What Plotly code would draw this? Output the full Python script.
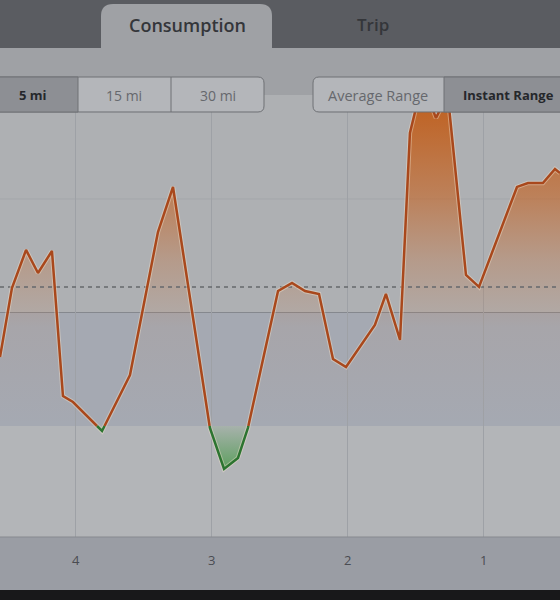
import numpy as np
import plotly.graph_objects as go

# ---------------- data ----------------
miles_left = [4.560, 4.472, 4.368, 4.280, 4.177, 4.096, 4.022, 3.808, 3.602, 3.396,
              3.285, 3.013, 2.909, 2.806, 2.733, 2.511, 2.408, 2.312, 2.209, 2.106,
              2.010, 1.907, 1.797, 1.716, 1.612, 1.539, 1.480, 1.421, 1.347, 1.260,
              1.126, 1.030, 0.750, 0.669, 0.559, 0.470, 0.433]
consumption = [60.8, 121.6, 155.1, 134.8, 154.2, 26.4, 21.1, -4.4, 44.9, 170.9,
               210.6, -1.8, -37.9, -28.2, -1.8, 118.9, 126.0, 118.9, 116.3, 59.0,
               52.0, 69.6, 89.0, 116.3, 75.8, 258.1, 287.2, 294.3, 271.4, 292.0,
               133.0, 122.5, 210.6, 214.1, 214.1, 226.4, 222.9]
average_value = 122.5
tick_vals = [4, 3, 2, 1]
tick_text = ["4", "3", "2", "1"]
tab_labels = ["Consumption", "Trip"]
dist_buttons = ["5 mi", "15 mi", "30 mi"]
range_buttons = ["Average Range", "Instant Range"]

X_RANGE = [4.56, 0.433]
Y_RANGE = [-97.8, 291.6]

W, H = 560, 600
PLOT_TOP, PLOT_BOTTOM = 95, 537
PLOT_H = PLOT_BOTTOM - PLOT_TOP


def PX(px):
    return px / W


def PY(py):
    return (PLOT_BOTTOM - py) / PLOT_H


def split_at_zero(xs, ys):
    ox, oy = [xs[0]], [ys[0]]
    for i in range(1, len(xs)):
        x0, y0, x1, y1 = xs[i - 1], ys[i - 1], xs[i], ys[i]
        if (y0 > 0 > y1) or (y0 < 0 < y1):
            t = y0 / (y0 - y1)
            ox.append(x0 + t * (x1 - x0))
            oy.append(0.0)
        ox.append(x1)
        oy.append(y1)
    return np.array(ox), np.array(oy)


def rrect(x0, y0, x1, y1, r, tl=True, tr=True, br=True, bl=True):
    def p(x, y):
        return f"{PX(x):.5f},{PY(y):.5f}"
    s = f"M {p(x0 + (r if tl else 0), y0)} "
    s += f"L {p(x1 - (r if tr else 0), y0)} "
    if tr:
        s += f"Q {p(x1, y0)} {p(x1, y0 + r)} "
    s += f"L {p(x1, y1 - (r if br else 0))} "
    if br:
        s += f"Q {p(x1, y1)} {p(x1 - r, y1)} "
    s += f"L {p(x0 + (r if bl else 0), y1)} "
    if bl:
        s += f"Q {p(x0, y1)} {p(x0, y1 - r)} "
    s += f"L {p(x0, y0 + (r if tl else 0))} "
    if tl:
        s += f"Q {p(x0, y0)} {p(x0 + r, y0)} "
    s += "Z"
    return s


ox, oy = split_at_zero(miles_left, consumption)
pos = np.where(oy >= 0, oy, np.nan)
neg = np.where(oy <= 0, oy, np.nan)

fig = go.Figure()

# orange gradient fill
fig.add_trace(go.Scatter(
    x=ox, y=np.maximum(oy, 0), mode="lines", line=dict(width=0),
    fill="tozeroy",
    fillgradient=dict(type="vertical", start=0, stop=Y_RANGE[1],
                      colorscale=[[0, "rgba(200,105,40,0)"],
                                  [0.3, "rgba(200,105,40,0.06)"],
                                  [0.5, "rgba(200,100,35,0.28)"],
                                  [0.7, "rgba(198,96,28,0.6)"],
                                  [1, "rgba(192,90,20,0.95)"]]),
    hoverinfo="skip", showlegend=False))
# green gradient fill
fig.add_trace(go.Scatter(
    x=ox, y=np.minimum(oy, 0), mode="lines", line=dict(width=0),
    fill="tozeroy",
    fillgradient=dict(type="vertical", start=-40, stop=0,
                      colorscale=[[0, "rgba(60,150,60,0.75)"],
                                  [1, "rgba(60,150,60,0.1)"]]),
    hoverinfo="skip", showlegend=False))

# average dashed line
fig.add_trace(go.Scatter(
    x=X_RANGE, y=[average_value, average_value], mode="lines",
    line=dict(color="#66686c", width=1.5, dash="4px,4px"),
    hoverinfo="skip", showlegend=False))

# halo + lines
fig.add_trace(go.Scatter(x=ox, y=oy, mode="lines",
                         line=dict(color="rgba(240,225,205,0.45)", width=4.5),
                         hoverinfo="skip", showlegend=False))
fig.add_trace(go.Scatter(x=ox, y=pos, mode="lines",
                         line=dict(color="#a9481c", width=2.5),
                         hoverinfo="skip", showlegend=False))
fig.add_trace(go.Scatter(x=ox, y=neg, mode="lines",
                         line=dict(color="#2c7430", width=2.5),
                         hoverinfo="skip", showlegend=False))

shapes = []
# plot background bands
shapes.append(dict(type="rect", xref="x domain", yref="y", x0=0, x1=1, y0=0, y1=100,
                   fillcolor="#a5a9b2", line=dict(width=0), layer="below"))
shapes.append(dict(type="rect", xref="x domain", yref="y", x0=0, x1=1, y0=Y_RANGE[0], y1=0,
                   fillcolor="#b3b5b8", line=dict(width=0), layer="below"))
shapes.append(dict(type="line", xref="x domain", yref="y", x0=0, x1=1, y0=100, y1=100,
                   line=dict(color="#85888e", width=1.2), layer="below"))
shapes.append(dict(type="line", xref="x domain", yref="y", x0=0, x1=1, y0=200, y1=200,
                   line=dict(color="#a3a6aa", width=1), layer="below"))

# header dark band
shapes.append(dict(type="rect", xref="paper", yref="paper", x0=0, x1=1, y0=PY(48), y1=PY(0),
                   fillcolor="#5a5c61", line=dict(width=0), layer="above"))
# toolbar band
shapes.append(dict(type="rect", xref="paper", yref="paper", x0=0, x1=1, y0=PY(PLOT_TOP), y1=PY(48),
                   fillcolor="#9fa1a5", line=dict(width=0), layer="above"))
# selected tab
shapes.append(dict(type="path", xref="paper", yref="paper",
                   path=rrect(101, 4, 272, 60, 12, br=False, bl=False),
                   fillcolor="#9fa1a5", line=dict(width=0), layer="above"))

# distance buttons
btn_y0, btn_y1 = 77, 112
shapes.append(dict(type="path", xref="paper", yref="paper",
                   path=rrect(-10, btn_y0, 264, btn_y1, 6),
                   fillcolor="#b4b6ba", line=dict(color="#6e7074", width=1), layer="above"))
shapes.append(dict(type="rect", xref="paper", yref="paper",
                   x0=PX(-10), x1=PX(78), y0=PY(btn_y1), y1=PY(btn_y0),
                   fillcolor="#8d8f94", line=dict(color="#6e7074", width=1), layer="above"))
shapes.append(dict(type="line", xref="paper", yref="paper",
                   x0=PX(171), x1=PX(171), y0=PY(btn_y1), y1=PY(btn_y0),
                   line=dict(color="#6e7074", width=1), layer="above"))
# range buttons
shapes.append(dict(type="path", xref="paper", yref="paper",
                   path=rrect(313, btn_y0, 575, btn_y1, 6),
                   fillcolor="#b4b6ba", line=dict(color="#6e7074", width=1), layer="above"))
shapes.append(dict(type="rect", xref="paper", yref="paper",
                   x0=PX(444), x1=PX(575), y0=PY(btn_y1), y1=PY(btn_y0),
                   fillcolor="#8d8f94", line=dict(color="#6e7074", width=1), layer="above"))

# axis band + bottom
shapes.append(dict(type="rect", xref="paper", yref="paper", x0=0, x1=1, y0=PY(590), y1=0,
                   fillcolor="#9a9da4", line=dict(width=0), layer="above"))
shapes.append(dict(type="line", xref="paper", yref="paper", x0=0, x1=1, y0=0, y1=0,
                   line=dict(color="#86898f", width=1), layer="above"))
shapes.append(dict(type="rect", xref="paper", yref="paper", x0=0, x1=1, y0=PY(600), y1=PY(590),
                   fillcolor="#18181a", line=dict(width=0), layer="above"))

annotations = []
FONT = "Open Sans"


def label(text, px, py, size, color, weight=400):
    annotations.append(dict(text=text, x=PX(px), y=PY(py), xref="paper", yref="paper",
                            showarrow=False, xanchor="center", yanchor="middle",
                            font=dict(family=FONT, size=size, color=color, weight=weight)))


label(tab_labels[0], 187, 25, 18, "#34363a", 600)
label(tab_labels[1], 373, 25, 17, "#34363a", 600)
label(dist_buttons[0], 33, 95, 13, "#25272b", 700)
label(dist_buttons[1], 124, 95, 14, "#66686d", 500)
label(dist_buttons[2], 218, 95, 14, "#66686d", 500)
label(range_buttons[0], 378, 95, 14.5, "#66686d", 500)
label(range_buttons[1], 508, 95, 13, "#25272b", 700)

for tv, tt in zip(tick_vals, tick_text):
    annotations.append(dict(text=tt, x=tv, y=PY(560), xref="x", yref="paper",
                            showarrow=False, xanchor="center", yanchor="middle",
                            font=dict(family=FONT, size=13, color="#4a4c52")))

fig.update_layout(
    width=W, height=H,
    margin=dict(l=0, r=0, t=PLOT_TOP, b=H - PLOT_BOTTOM, pad=0),
    paper_bgcolor="#9fa1a5",
    plot_bgcolor="#aeb0b3",
    shapes=shapes,
    annotations=annotations,
    showlegend=False,
    xaxis=dict(range=X_RANGE, tickvals=tick_vals, showticklabels=False,
               showgrid=True, gridcolor="#9ea1a6", gridwidth=1, zeroline=False,
               showline=False, fixedrange=True),
    yaxis=dict(range=Y_RANGE, showgrid=False, showticklabels=False,
               zeroline=False, showline=False, fixedrange=True),
)

fig.write_html("out.html", config={"displayModeBar": False},
               post_script="document.body.style.margin='0';document.body.style.overflow='hidden';")
